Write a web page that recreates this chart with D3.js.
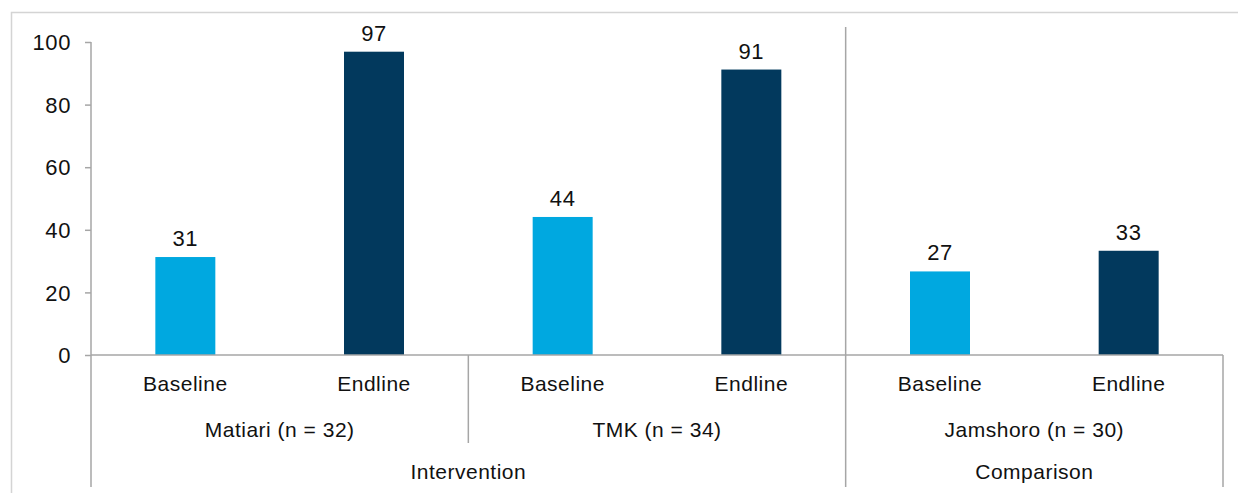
<!DOCTYPE html>
<html>
<head>
<meta charset="utf-8">
<script src="https://cdn.jsdelivr.net/npm/d3@7"></script>
<style>
  body { margin: 0; background: #fff; }
  text { font-family: "Liberation Sans", Arial, sans-serif; fill: #111; }
</style>
</head>
<body>
<div id="chart"></div>
<script>
// chart values
var districts = ["Matiari (n = 32)", "TMK (n = 34)", "Jamshoro (n = 30)"];
var districtGroup = ["Intervention", "Intervention", "Comparison"];
var groups = ["Intervention", "Comparison"];
var rounds = ["Baseline", "Endline"];
var baselineValues = [31.3, 44.1, 26.7];
var endlineValues = [96.9, 91.2, 33.3];
var yTicks = [0, 20, 40, 60, 80, 100];

var svgWidth = 1238;
var svgHeight = 493;
var plot = {left: 91, right: 1223, top: 42, bottom: 355};
var colors = {Baseline: "#00A8E0", Endline: "#02395D"};
var axisColor = "#a6a6a6";

var svg = d3.select("#chart").append("svg")
  .attr("width", svgWidth)
  .attr("height", svgHeight);

// outer chart frame (clipped at right and bottom like the picture)
svg.append("rect")
  .attr("x", 11.5).attr("y", 12.5)
  .attr("width", 1300).attr("height", 600)
  .attr("fill", "none")
  .attr("stroke", "#d4d4d4")
  .attr("stroke-width", 1.5);

// flat list of bars
var bars = [];
districts.forEach(function(d, i) {
  bars.push({district: d, round: "Baseline", value: baselineValues[i], key: d + "|Baseline"});
  bars.push({district: d, round: "Endline", value: endlineValues[i], key: d + "|Endline"});
});

var x = d3.scaleBand()
  .domain(bars.map(function(d) { return d.key; }))
  .range([plot.left, plot.right])
  .paddingInner(0.682)
  .paddingOuter(0.341);

var y = d3.scaleLinear()
  .domain([0, 100])
  .range([plot.bottom, plot.top]);

var step = x.step();

// y axis
var yAxis = svg.append("g")
  .attr("transform", "translate(" + plot.left + ",0)")
  .call(d3.axisLeft(y).tickValues(yTicks).tickSize(6).tickPadding(14));
yAxis.select(".domain").remove();
yAxis.selectAll(".tick line").attr("stroke", axisColor).attr("stroke-width", 1.5);
yAxis.selectAll(".tick text")
  .style("font-family", "'Liberation Sans', Arial, sans-serif")
  .style("font-size", "22px")
  .style("letter-spacing", "0.6px")
  .attr("fill", "#111")
  .attr("dy", "0.35em");

// bars
svg.append("g").selectAll("rect")
  .data(bars)
  .enter()
  .append("rect")
  .attr("x", function(d) { return x(d.key); })
  .attr("y", function(d) { return y(d.value); })
  .attr("width", x.bandwidth())
  .attr("height", function(d) { return y(0) - y(d.value); })
  .attr("fill", function(d) { return colors[d.round]; });

// value labels
svg.append("g").selectAll("text")
  .data(bars)
  .enter()
  .append("text")
  .attr("x", function(d) { return x(d.key) + x.bandwidth() / 2; })
  .attr("y", function(d) { return y(d.value) - 11; })
  .attr("text-anchor", "middle")
  .style("font-size", "22px")
  .style("letter-spacing", "0.6px")
  .text(function(d) { return Math.round(d.value); });

// y axis line runs down through the category labels
var lines = svg.append("g").attr("stroke", axisColor).attr("stroke-width", 1.5);
lines.append("line")
  .attr("x1", plot.left).attr("x2", plot.left)
  .attr("y1", plot.top).attr("y2", 487);
// x axis
lines.append("line")
  .attr("x1", plot.left).attr("x2", plot.right)
  .attr("y1", plot.bottom).attr("y2", plot.bottom);
lines.append("line")
  .attr("x1", plot.right).attr("x2", plot.right)
  .attr("y1", plot.bottom).attr("y2", 487);

// separators between districts / groups
districts.forEach(function(d, i) {
  if (i == 0) return;
  var sx = x(d + "|Baseline") - (step - x.bandwidth()) / 2;
  var groupBreak = districtGroup[i] != districtGroup[i - 1];
  lines.append("line")
    .attr("x1", sx).attr("x2", sx)
    .attr("y1", groupBreak ? 27 : plot.bottom)
    .attr("y2", groupBreak ? 487 : 443);
});

// level 1 labels: Baseline / Endline
svg.append("g").selectAll("text")
  .data(bars)
  .enter()
  .append("text")
  .attr("x", function(d) { return x(d.key) + x.bandwidth() / 2; })
  .attr("y", 384)
  .attr("dy", "0.35em")
  .attr("text-anchor", "middle")
  .style("font-size", "21px")
  .style("letter-spacing", "0.5px")
  .text(function(d) { return d.round; });

// level 2 labels: districts
svg.append("g").selectAll("text")
  .data(districts)
  .enter()
  .append("text")
  .attr("x", function(d) {
    var x0 = x(d + "|Baseline") - (step - x.bandwidth()) / 2;
    return x0 + step;
  })
  .attr("y", 430)
  .attr("dy", "0.35em")
  .attr("text-anchor", "middle")
  .style("font-size", "21px")
  .style("letter-spacing", "0.5px")
  .text(function(d) { return d; });

// level 3 labels: groups
svg.append("g").selectAll("text")
  .data(groups)
  .enter()
  .append("text")
  .attr("x", function(g) {
    var members = districts.filter(function(d, i) { return districtGroup[i] == g; });
    var x0 = x(members[0] + "|Baseline") - (step - x.bandwidth()) / 2;
    var x1 = x(members[members.length - 1] + "|Endline") + x.bandwidth() + (step - x.bandwidth()) / 2;
    return (x0 + x1) / 2;
  })
  .attr("y", 472)
  .attr("dy", "0.35em")
  .attr("text-anchor", "middle")
  .style("font-size", "21px")
  .style("letter-spacing", "0.5px")
  .text(function(g) { return g; });
</script>
</body>
</html>
